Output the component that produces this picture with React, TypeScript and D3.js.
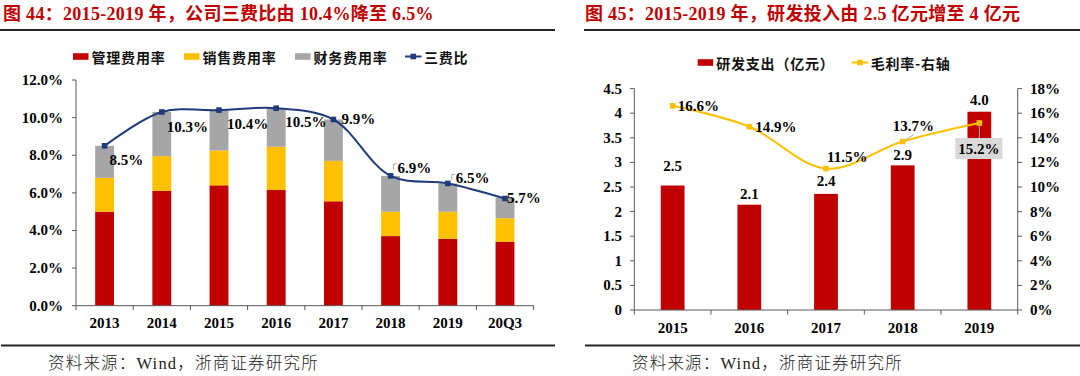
import React from 'react';
import * as d3 from 'd3';

// ---------- Data: left chart (图44) ----------
const leftCategories = ['2013', '2014', '2015', '2016', '2017', '2018', '2019', '20Q3'];
const mgmtRate = [5.0, 6.1, 6.4, 6.15, 5.55, 3.7, 3.55, 3.4];
const salesRate = [1.8, 1.85, 1.85, 2.3, 2.15, 1.3, 1.45, 1.25];
const finRate = [1.7, 2.35, 2.2, 2.05, 2.2, 1.9, 1.5, 1.1];
const threeFeeRatio = [8.5, 10.3, 10.4, 10.5, 9.9, 6.9, 6.5, 5.7];
const leftTicks = [0, 2, 4, 6, 8, 10, 12];
const leftSeriesNames = ['管理费用率', '销售费用率', '财务费用率', '三费比'];

// ---------- Data: right chart (图45) ----------
const rightCategories = ['2015', '2016', '2017', '2018', '2019'];
const rdSpend = [2.53, 2.14, 2.36, 2.94, 4.03];
const grossMargin = [16.6, 14.9, 11.5, 13.7, 15.2];
const rightTicksL = [0, 0.5, 1, 1.5, 2, 2.5, 3, 3.5, 4, 4.5];
const rightTicksR = [0, 2, 4, 6, 8, 10, 12, 14, 16, 18];
const rightSeriesNames = ['研发支出（亿元）', '毛利率-右轴'];

const titleLeft = '图 44：2015-2019 年，公司三费比由 10.4%降至 6.5%';
const titleRight = '图 45：2015-2019 年，研发投入由 2.5 亿元增至 4 亿元';
const sourceText = '资料来源：Wind，浙商证券研究所';

// ---------- Styles ----------
const RED = '#C00000';
const YELLOW = '#FFC000';
const GRAY = '#A6A6A6';
const NAVY = '#1F3B7A';
const AXIS = '#595959';
const SERIF = '"Liberation Serif", "Times New Roman", "Noto Sans CJK SC", serif';
const CJK = '"Noto Sans CJK SC", "Liberation Serif", sans-serif';

// label placement offsets (layout, not data)
const leftLabelOffset: [number, number][] = [
  [5, 14], [5, 15], [8, 14], [9, 14], [8, 0], [7, -8], [8, -5], [2, 0],
];
const rightLabelOffset: [number, number][] = [
  [5, 0], [6, 0], [1, -12], [-10, -15],
];
const barLabelLift = [20, 11, 12.5, 10, 12];

export default function App() {
  // ----- Left chart scales -----
  const xL = d3.scaleBand<string>().domain(leftCategories).range([76, 533.6]);
  const yL = d3.scaleLinear().domain([0, 12]).range([305.7, 80]);
  const bwL = xL.bandwidth() * 0.33;
  const rows = leftCategories.map((c, i) => ({ cat: c, mgmt: mgmtRate[i], sales: salesRate[i], fin: finRate[i] }));
  const stacked = d3.stack<any>().keys(['mgmt', 'sales', 'fin'])(rows);
  const stackColors = [RED, YELLOW, GRAY];
  const cxL = (c: string) => (xL(c) as number) + xL.bandwidth() / 2;
  const lineL = d3
    .line<number>()
    .x((_, i) => cxL(leftCategories[i]))
    .y((d) => yL(d))
    .curve(d3.curveCatmullRom.alpha(0.5));

  // ----- Right chart scales -----
  const xR = d3.scaleBand<string>().domain(rightCategories).range([634.3, 1017.7]);
  const yRL = d3.scaleLinear().domain([0, 4.5]).range([310, 88.6]);
  const yRR = d3.scaleLinear().domain([0, 18]).range([310, 88.6]);
  const bwR = xR.bandwidth() * 0.31;
  const cxR = (c: string) => (xR(c) as number) + xR.bandwidth() / 2;
  const lineR = d3
    .line<number>()
    .x((_, i) => cxR(rightCategories[i]))
    .y((d) => yRR(d))
    .curve(d3.curveCatmullRom.alpha(0.5));

  const bold = { fontFamily: SERIF, fontWeight: 700 as const, fontSize: 15, fill: '#000' };

  // legend layout
  const legL = [
    { x: 73, type: 'rect', color: RED, name: leftSeriesNames[0] },
    { x: 184, type: 'rect', color: YELLOW, name: leftSeriesNames[1] },
    { x: 295, type: 'rect', color: GRAY, name: leftSeriesNames[2] },
    { x: 405, type: 'line', color: NAVY, name: leftSeriesNames[3] },
  ];
  const legR = [
    { x: 697.7, type: 'rect', color: RED, name: rightSeriesNames[0] },
    { x: 851.7, type: 'line', color: YELLOW, name: rightSeriesNames[1] },
  ];

  const renderLegend = (items: any[], cy: number) =>
    items.map((it, i) => (
      <g key={i}>
        {it.type === 'rect' ? (
          <rect x={it.x} y={cy - 3.3} width={15.5} height={6.6} fill={it.color} />
        ) : (
          <g>
            <line x1={it.x} x2={it.x + 16.5} y1={cy} y2={cy} stroke={it.color} strokeWidth={2} />
            <rect x={it.x + 5.5} y={cy - 2.8} width={5.6} height={5.6} fill={it.color} />
          </g>
        )}
        <text
          x={it.x + (it.type === 'rect' ? 18.5 : 19)}
          y={cy}
          dominantBaseline="central"
          style={{ fontFamily: CJK, fontWeight: 700, fontSize: 14, letterSpacing: 0.8 }}
          fill="#111"
        >
          {it.name}
        </text>
      </g>
    ));

  return (
    <svg
      width={1080}
      height={376}
      style={{ position: 'absolute', left: 0, top: 0, background: '#fff' }}
    >
      <rect x={0} y={0} width={1080} height={376} fill="#fff" />

      {/* Titles */}
      <text x={3} y={14} dominantBaseline="central" fill={RED}
        style={{ fontFamily: SERIF, fontWeight: 700, fontSize: 18, letterSpacing: 0.3 }}>{titleLeft}</text>
      <text x={585} y={14} dominantBaseline="central" fill={RED}
        style={{ fontFamily: SERIF, fontWeight: 700, fontSize: 18, letterSpacing: 0.3 }}>{titleRight}</text>

      {/* Rules */}
      <line x1={0} x2={555} y1={30} y2={30} stroke="#262626" strokeWidth={2} />
      <line x1={584} x2={1080} y1={30} y2={30} stroke="#262626" strokeWidth={2} />
      <line x1={1} x2={555} y1={345.5} y2={345.5} stroke="#262626" strokeWidth={2} />
      <line x1={585} x2={1080} y1={345.5} y2={345.5} stroke="#262626" strokeWidth={2} />

      {/* Sources */}
      <text x={48} y={363} dominantBaseline="central" fill="#222"
        style={{ fontFamily: SERIF, fontWeight: 300, fontSize: 16.5, letterSpacing: 1.2 }}>{sourceText}</text>
      <text x={632} y={363} dominantBaseline="central" fill="#222"
        style={{ fontFamily: SERIF, fontWeight: 300, fontSize: 16.5, letterSpacing: 1.2 }}>{sourceText}</text>

      {/* ===== Left chart ===== */}
      {renderLegend(legL, 56.5)}

      {stacked.map((layer, li) => (
        <g key={li}>
          {layer.map((d: any, i: number) => (
            <rect
              key={i}
              x={cxL(leftCategories[i]) - bwL / 2}
              y={yL(d[1])}
              width={bwL}
              height={yL(d[0]) - yL(d[1])}
              fill={stackColors[li]}
            />
          ))}
        </g>
      ))}

      {/* left y axis */}
      <line x1={76} x2={76} y1={80} y2={305.7} stroke={AXIS} strokeWidth={1} />
      {leftTicks.map((t) => (
        <g key={t}>
          <line x1={72} x2={76} y1={yL(t)} y2={yL(t)} stroke={AXIS} />
          <text x={63} y={yL(t)} textAnchor="end" dominantBaseline="central" style={bold}>
            {t.toFixed(1) + '%'}
          </text>
        </g>
      ))}
      {/* left x axis */}
      <line x1={76} x2={533.6} y1={305.7} y2={305.7} stroke={AXIS} strokeWidth={1} />
      {leftCategories.map((c, i) => (
        <g key={c}>
          <line x1={(xL(c) as number) + xL.bandwidth()} x2={(xL(c) as number) + xL.bandwidth()}
            y1={305.7} y2={310} stroke={AXIS} />
          {i === 0 && <line x1={76} x2={76} y1={305.7} y2={310} stroke={AXIS} />}
          <text x={cxL(c)} y={323} textAnchor="middle" dominantBaseline="central" style={bold}>{c}</text>
        </g>
      ))}

      {/* 三费比 line */}
      <path d={lineL(threeFeeRatio) as string} fill="none" stroke={NAVY} strokeWidth={2} />
      {threeFeeRatio.map((v, i) => (
        <rect key={i} x={cxL(leftCategories[i]) - 2.8} y={yL(v) - 2.8} width={5.6} height={5.6} fill={NAVY} />
      ))}
      {threeFeeRatio.map((v, i) => {
        const [dx, dy] = leftLabelOffset[i];
        const lx = cxL(leftCategories[i]) + dx;
        const ly = yL(v) + dy;
        return (
          <g key={i}>
            {(i === 5 || i === 6) && (
              <path d={`M${lx - 1},${ly - 4} h-3 v6`} fill="none" stroke="#A6A6A6" strokeWidth={1} />
            )}
            <text x={lx} y={ly} dominantBaseline="central" style={bold}>{v.toFixed(1) + '%'}</text>
          </g>
        );
      })}

      {/* ===== Right chart ===== */}
      {renderLegend(legR, 62.5)}

      {rdSpend.map((v, i) => (
        <g key={i}>
          <rect x={cxR(rightCategories[i]) - bwR / 2} y={yRL(v)} width={bwR} height={yRL(0) - yRL(v)} fill={RED} />
          <text x={cxR(rightCategories[i])} y={yRL(v) - barLabelLift[i]} textAnchor="middle" dominantBaseline="central" style={bold}>
            {v.toFixed(1)}
          </text>
        </g>
      ))}

      {/* left axis */}
      <line x1={634.3} x2={634.3} y1={88.6} y2={310} stroke={AXIS} />
      {rightTicksL.map((t) => (
        <g key={t}>
          <line x1={630} x2={634.3} y1={yRL(t)} y2={yRL(t)} stroke={AXIS} />
          <text x={622} y={yRL(t)} textAnchor="end" dominantBaseline="central" style={bold}>{String(t)}</text>
        </g>
      ))}
      {/* right axis */}
      <line x1={1017.7} x2={1017.7} y1={88.6} y2={310} stroke={AXIS} />
      {rightTicksR.map((t) => (
        <g key={t}>
          <line x1={1017.7} x2={1022} y1={yRR(t)} y2={yRR(t)} stroke={AXIS} />
          <text x={1030} y={yRR(t)} dominantBaseline="central" style={bold}>{t + '%'}</text>
        </g>
      ))}
      {/* x axis */}
      <line x1={634.3} x2={1017.7} y1={310} y2={310} stroke={AXIS} />
      {rightCategories.map((c, i) => (
        <g key={c}>
          {i > 0 && (
            <line x1={xR(c) as number} x2={xR(c) as number} y1={310} y2={314.5} stroke={AXIS} />
          )}
          <text x={cxR(c)} y={328} textAnchor="middle" dominantBaseline="central" style={bold}>{c}</text>
        </g>
      ))}
      <line x1={634.3} x2={634.3} y1={310} y2={314.5} stroke={AXIS} />
      <line x1={1017.7} x2={1017.7} y1={310} y2={314.5} stroke={AXIS} />

      {/* gross margin line */}
      <path d={lineR(grossMargin) as string} fill="none" stroke={YELLOW} strokeWidth={2} />
      {grossMargin.map((v, i) => (
        <rect key={i} x={cxR(rightCategories[i]) - 2.8} y={yRR(v) - 2.8} width={5.6} height={5.6} fill={YELLOW} />
      ))}
      {grossMargin.map((v, i) => {
        const px = cxR(rightCategories[i]);
        const py = yRR(v);
        if (i < rightLabelOffset.length) {
          const [dx, dy] = rightLabelOffset[i];
          return (
            <g key={i}>
              {i === 3 && <line x1={px + 2} y1={py - 1} x2={px + 11} y2={py - 7} stroke="#A6A6A6" />}
              <text x={px + dx} y={py + dy} dominantBaseline="central" style={bold}>{v.toFixed(1) + '%'}</text>
            </g>
          );
        }
        const by = py + 25.5;
        return (
          <g key={i}>
            <line x1={px} x2={px} y1={py} y2={by - 10.5} stroke="#A6A6A6" />
            <rect x={px - 24} y={by - 10.5} width={47} height={21} fill="#D9D9D9" />
            <text x={px - 0.5} y={by} textAnchor="middle" dominantBaseline="central" style={bold}>
              {v.toFixed(1) + '%'}
            </text>
          </g>
        );
      })}
    </svg>
  );
}
